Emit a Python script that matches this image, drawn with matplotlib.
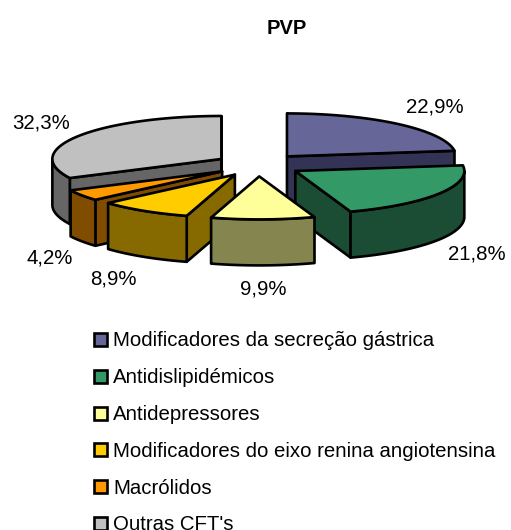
import numpy as np
import matplotlib
matplotlib.use("Agg")
import matplotlib.pyplot as plt
from matplotlib.patches import Polygon, Rectangle

plt.rcParams['font.family'] = ['Liberation Sans', 'DejaVu Sans']

# ================== data ==================
categories = ["Modificadores da secreção gástrica", "Antidislipidémicos", "Antidepressores",
              "Modificadores do eixo renina angiotensina", "Macrólidos", "Outras CFT's"]
values = [22.9, 21.8, 9.9, 8.9, 4.2, 32.3]
top_colors = ["#666699", "#339966", "#FFFF99", "#FFCC00", "#FF9900", "#C0C0C0"]
side_colors = ["#333355", "#1A4D33", "#858550", "#866A00", "#804D00", "#666666"]

# ================== layout (pixels) ==================
cx, cy = 258.3, 165
rx, ry = 169, 43
depth = 46
explode_x, explode_y = 43.5, 11.4
draw_order = [5, 0, 4, 3, 1, 2]
label_pos = [(435, 107), (477, 254), (263, 289), (113, 279), (50, 258), (41, 123)]
lw = 1.9

fig = plt.figure(figsize=(5.11, 5.30), dpi=100)
ax = fig.add_axes([0, 0, 1, 1])
ax.set_xlim(0, 511)
ax.set_ylim(530, 0)
ax.axis("off")


def rim(a, ox, oy):
    # a in degrees, clockwise from 12 o'clock
    a = np.radians(a)
    return np.column_stack([ox + rx * np.sin(a), oy - ry * np.cos(a)])


def face(pts, color, z):
    ax.add_patch(Polygon(pts, closed=True, facecolor=color, edgecolor="black",
                         linewidth=lw, joinstyle="round", zorder=z))


ends = np.cumsum(values) * 3.6
starts = ends - np.array(values) * 3.6

z = 1
for i in draw_order:
    a0, a1 = starts[i], ends[i]
    mid = np.radians((a0 + a1) / 2)
    ox = cx + explode_x * np.sin(mid)
    oy = cy - explode_y * np.cos(mid)
    apex = np.array([[ox, oy]])
    drop = np.array([[0, depth]])

    # cut faces, only the ones turned to the viewer
    cuts = []
    if a0 < 1 or 180 < a0 < 270:
        cuts.append(a0)
    if a1 < 180 or a1 > 359:
        cuts.append(a1)
    for a in cuts:
        p = rim(np.array([a]), ox, oy)
        face(np.vstack([apex, p, p + drop, apex + drop]), side_colors[i], z)
        z += 1

    # outer wall, front half of the rim
    w0, w1 = max(a0, 90), min(a1, 270)
    if w1 > w0:
        t = np.linspace(w0, w1, 60)
        upper = rim(t, ox, oy)
        face(np.vstack([upper, (upper + drop)[::-1]]), side_colors[i], z)
        z += 1

    # top
    t = np.linspace(a0, a1, 120)
    face(np.vstack([apex, rim(t, ox, oy)]), top_colors[i], z)
    z += 1

ax.text(287, 28, "PVP", fontsize=14.5, fontweight="bold", ha="center", va="center", zorder=z)

for v, (lx, ly) in zip(values, label_pos):
    ax.text(lx, ly, f"{v:.1f}%".replace(".", ","), fontsize=14.7, ha="center", va="center", zorder=z)

# legend
for k, name in enumerate(categories):
    yy = 339.5 + k * 36.8
    ax.add_patch(Rectangle((94, yy - 6.5), 13, 13, facecolor=top_colors[k], edgecolor="black",
                           linewidth=lw, zorder=z))
    ax.text(113, yy + 1.5, name, fontsize=14.7, ha="left", va="center", zorder=z)

fig.savefig("out.png", dpi=100)
